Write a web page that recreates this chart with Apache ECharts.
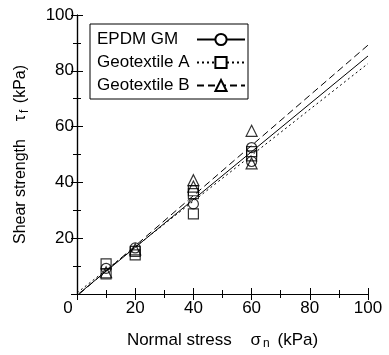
<!DOCTYPE html>
<html><head><meta charset="utf-8">
<script src="https://cdn.jsdelivr.net/npm/echarts@6/dist/echarts.min.js"></script>
<style>html,body{margin:0;padding:0;background:#fff}#c{width:389px;height:355px}</style>
</head><body><div id="c"></div>
<script>
// Measured points (normal stress kPa, shear strength kPa)
const epdmPts = [[10, 9.2], [20, 16.5], [40, 32.3], [60, 52.5], [60, 47.5]];
const geoAPts = [[10, 10.8], [10, 7.2], [20, 15.3], [20, 14.0], [40, 37.0], [40, 36.0], [40, 28.7], [60, 51.0], [60, 49.5]];
const geoBPts = [[10, 7.8], [20, 16.0], [40, 40.8], [40, 38.5], [60, 58.5], [60, 46.8]];
// Fitted failure envelopes (end points)
const epdmFit = [[0.5, 0], [100, 85.3]];
const geoAFit = [[0, 0.4], [100, 82.6]];
const geoBFit = [[0.8, 0], [100, 89.2]];
const seriesNames = ['EPDM GM', 'Geotextile A', 'Geotextile B'];
const xTicks = [0, 20, 40, 60, 80, 100];
const yTicks = [0, 20, 40, 60, 80, 100];

const FONT = '"Liberation Sans", Arial, Helvetica, sans-serif';
const chart = echarts.init(document.getElementById('c'), null, {renderer: 'canvas'});
const axisCommon = {
  min: 0, max: 100, interval: 20,
  axisLine: {show: true, lineStyle: {color: '#000', width: 1.2}},
  axisTick: {show: true, inside: true, length: 6, lineStyle: {color: '#000', width: 1}},
  minorTick: {show: true, splitNumber: 2, length: 4, lineStyle: {color: '#000', width: 1}},
  splitLine: {show: false}
};
chart.setOption({
  animation: false,
  backgroundColor: '#fff',
  textStyle: {fontFamily: FONT, color: '#000'},
  grid: {left: 77, right: 21, top: 15, bottom: 51, containLabel: false},
  legend: {
    data: seriesNames,
    orient: 'vertical', left: 90, top: 24,
    align: 'right',
    itemWidth: 48, itemHeight: 14, itemGap: 6,
    padding: [7, 2, 5, 7],
    borderColor: '#000', borderWidth: 1,
    formatter: n => '{t|' + n + '}',
    textStyle: {fontFamily: FONT, fontSize: 17, color: '#000',
      rich: {t: {fontFamily: FONT, fontSize: 17, color: '#000', width: 95, align: 'left'}}},
    selectedMode: false
  },
  xAxis: [Object.assign({}, axisCommon, {
    type: 'value', position: 'bottom',
    name: 'Normal stress    σ{sub|n} (kPa)',
    nameLocation: 'middle', nameGap: 36,
    nameTextStyle: {fontFamily: FONT, fontSize: 17, color: '#000', padding: [0, 0, 0, 0],
      rich: {sub: {fontFamily: FONT, fontSize: 12, verticalAlign: 'bottom', padding: [8, 3, 0, 2]}}},
    axisLabel: {fontFamily: FONT, fontSize: 17, color: '#000', margin: 6,
      formatter: v => v === 0 ? '{z|0}' : String(v),
      rich: {z: {fontFamily: FONT, fontSize: 17, color: '#000', padding: [0, 18, 0, 0]}}}
  }), Object.assign({}, axisCommon, {
    type: 'value', position: 'top', axisLabel: {show: false}
  })],
  yAxis: [Object.assign({}, axisCommon, {
    type: 'value', position: 'left',
    name: 'Shear strength    τ{sub|f} (kPa)',
    nameLocation: 'middle', nameGap: 46, nameRotate: 90,
    nameTextStyle: {fontFamily: FONT, fontSize: 16, color: '#000',
      rich: {sub: {fontFamily: FONT, fontSize: 12, verticalAlign: 'bottom', padding: [8, 2, 0, 2]}}},
    axisLabel: {fontFamily: FONT, fontSize: 17, color: '#000', margin: 3,
      formatter: v => v === 0 ? '' : String(v)}
  }), Object.assign({}, axisCommon, {
    type: 'value', position: 'right', axisLabel: {show: false}
  })],
  series: [
    {name: 'EPDM GM', type: 'line', data: epdmFit, showSymbol: false, symbol: 'emptyCircle', symbolSize: 13,
      lineStyle: {color: '#000', width: 1, type: 'solid'}, itemStyle: {color: '#000', borderColor: '#000'}, z: 3},
    {name: 'Geotextile A', type: 'line', data: geoAFit, showSymbol: false, symbol: 'emptyRect', symbolSize: 12,
      lineStyle: {color: '#000', width: 1, type: [2, 3]}, itemStyle: {color: '#000', borderColor: '#000'}, z: 3},
    {name: 'Geotextile B', type: 'line', data: geoBFit, showSymbol: false, symbol: 'emptyTriangle', symbolSize: 13,
      lineStyle: {color: '#000', width: 1, type: [7, 4]}, itemStyle: {color: '#000', borderColor: '#000'}, z: 3},
    {name: 'EPDM GM pts', type: 'scatter', data: epdmPts, symbol: 'circle', symbolSize: 10,
      itemStyle: {color: 'rgba(255,255,255,0)', borderColor: '#000', borderWidth: 1.2}, z: 4},
    {name: 'Geotextile A pts', type: 'scatter', data: geoAPts, symbol: 'rect', symbolSize: 10,
      itemStyle: {color: 'rgba(255,255,255,0)', borderColor: '#000', borderWidth: 1.2}, z: 4},
    {name: 'Geotextile B pts', type: 'scatter', data: geoBPts, symbol: 'triangle', symbolSize: 11,
      itemStyle: {color: 'rgba(255,255,255,0)', borderColor: '#000', borderWidth: 1.2}, z: 4}
  ]
});
</script></body></html>
